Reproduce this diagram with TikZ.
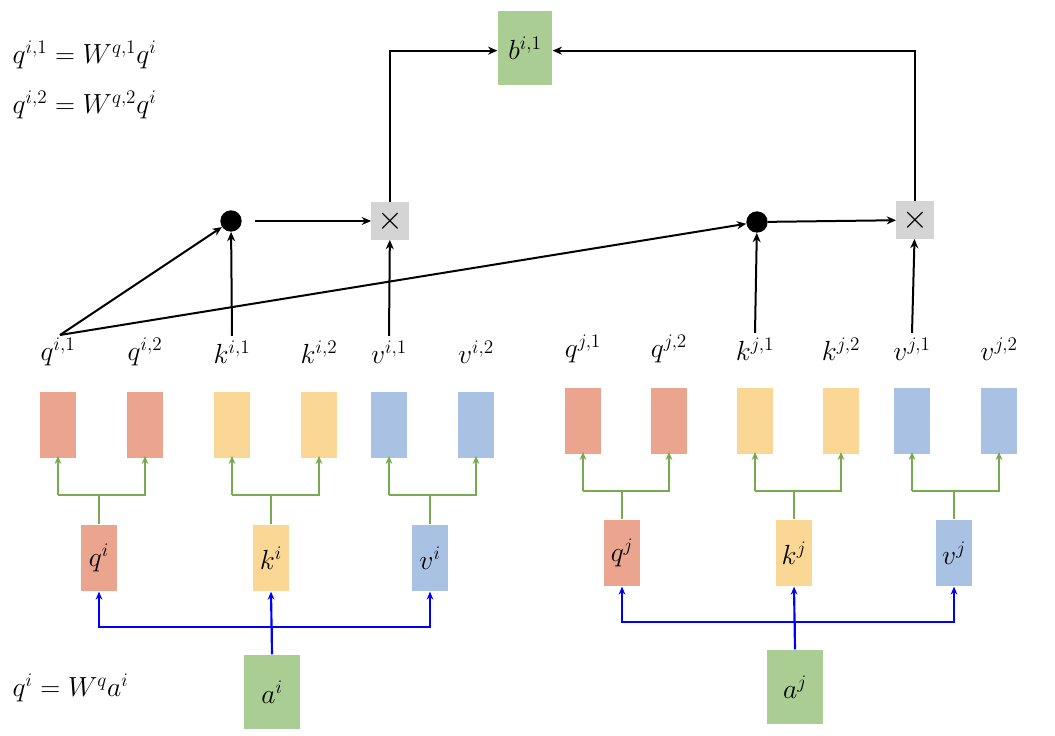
\documentclass[tikz,border=0pt]{standalone}
\usetikzlibrary{arrows.meta}
\begin{document}
\begin{tikzpicture}[x=0.75pt,y=-0.75pt,
  lab/.style={font=\fontsize{21}{24}\selectfont},
  box/.style={draw=none,minimum width=27pt,minimum height=50pt,inner sep=0pt},
  qb/.style={box,fill=qc}, kb/.style={box,fill=kc}, vb/.style={box,fill=vc},
  mid/.style={inner sep=0pt,minimum width=27pt,minimum height=50pt,font=\fontsize{21}{24}\selectfont},
  ab/.style={fill=gc,inner sep=0pt,minimum width=42pt,minimum height=56pt,font=\fontsize{21}{24}\selectfont},
  gr/.style={draw=garr,line width=1.6pt,-{Stealth[length=6pt,width=5pt]}},
  bl/.style={draw=blue,line width=1.6pt,-{Stealth[length=6pt,width=5pt]}},
  blk/.style={draw=black,line width=1.5pt,-{Stealth[length=7pt,width=6pt]}},
  dot/.style={circle,fill=black,minimum size=16pt,inner sep=0pt},
  mul/.style={fill=xc,minimum width=28pt,minimum height=28pt,inner sep=0pt,font=\fontsize{26}{28}\sffamily}
]
\definecolor{qc}{HTML}{EBA48D}
\definecolor{kc}{HTML}{FAD795}
\definecolor{vc}{HTML}{A9C2E4}
\definecolor{gc}{HTML}{A9CD93}
\definecolor{xc}{HTML}{D4D4D4}
\definecolor{garr}{HTML}{78AA50}
\useasboundingbox (0,0) rectangle (1055,735);

% formulas
\node[lab,anchor=west] (f1) at (8,55) {$q^{i,1}=W^{q,1}q^{i}$};
\node[lab,anchor=west] (f2) at (8,105) {$q^{i,2}=W^{q,2}q^{i}$};
\node[lab,anchor=west] (f3) at (8,688) {$q^{i}=W^{q}a^{i}$};

% i side
\foreach \n/\x/\s/\t in {qa/58/qb/{q^{i,1}},qbb/145/qb/{q^{i,2}},ka/232/kb/{k^{i,1}},kbb/319/kb/{k^{i,2}},va/389/vb/{v^{i,1}},vbb/476/vb/{v^{i,2}}}{
  \node[\s] (\n) at (\x,425) {};
  \node[lab] (l\n) at (\x,352) {$\t$};
}
\foreach \n/\x/\s/\t in {qja/583/qb/{q^{j,1}},qjb/669/qb/{q^{j,2}},kja/755/kb/{k^{j,1}},kjb/841/kb/{k^{j,2}},vja/912/vb/{v^{j,1}},vjb/999/vb/{v^{j,2}}}{
  \node[\s] (\n) at (\x,421) {};
  \node[lab] (l\n) at (\x,349) {$\t$};
}

% middle boxes
\node[mid,fill=qc] (qi) at (99,558) {$q^{i}$};
\node[mid,fill=kc] (ki) at (271,558) {$k^{i}$};
\node[mid,fill=vc] (vi) at (430,558) {$v^{i}$};
\node[mid,fill=qc] (qj) at (622,553) {$q^{j}$};
\node[mid,fill=kc] (kj) at (794,553) {$k^{j}$};
\node[mid,fill=vc] (vj) at (954,553) {$v^{j}$};

\node[ab] (ai) at (272,692) {$a^{i}$};
\node[ab] (aj) at (795,687) {$a^{j}$};

% green splits
\foreach \m/\a/\b/\yy in {qi/qa/qbb/495,ki/ka/kbb/495,vi/va/vbb/495,qj/qja/qjb/491,kj/kja/kjb/491,vj/vja/vjb/491}{
  \draw[draw=garr,line width=1.6pt] (\m.north) -- (\m.north |- 0,\yy);
  \draw[gr] (\a.south |- 0,\yy) -| ([yshift=2pt]\a.south);
  \draw[gr] (\a.south |- 0,\yy) -| ([yshift=2pt]\b.south);
}

% blue
\draw[draw=blue,line width=1.6pt] (ai.north) -- (ai.north |- 0,627);
\draw[bl] (ai.north |- 0,627) -| (qi.south);
\draw[bl] (ai.north |- 0,627) -| (vi.south);
\draw[bl] (ai.north) -- (ki.south);
\draw[draw=blue,line width=1.6pt] (aj.north) -- (aj.north |- 0,622);
\draw[bl] (aj.north |- 0,622) -| (qj.south);
\draw[bl] (aj.north |- 0,622) -| (vj.south);
\draw[bl] (aj.north) -- (kj.south);

% top part
\node[dot] (d1) at (231,221) {};
\node[dot] (d2) at (757,222) {};
\node[mul] (m1) at (390,221) {$\times$};
\node[mul] (m2) at (915,220) {$\times$};
\node[fill=gc,inner sep=0pt,minimum width=41pt,minimum height=55pt,font=\fontsize{21}{24}\selectfont] (b) at (525,48) {$b^{i,1}$};

\coordinate (qs) at (60,335);
\draw[blk] (qs) -- (d1);
\draw[blk] (qs) -- (d2);
\draw[blk] (lka.north) -- (d1);
\draw[blk] (lva.north) -- (m1);
\draw[blk] (lkja.north) -- (d2);
\draw[blk] (lvja.north) -- (m2);
\draw[blk] ([xshift=10pt]d1.east) -- (m1);
\draw[blk] (d2) -- (m2);
\draw[blk] (m1.north) |- ([yshift=-2pt]b.west);
\draw[blk] (m2.north) |- ([yshift=-2pt]b.east);
\end{tikzpicture}
\end{document}
